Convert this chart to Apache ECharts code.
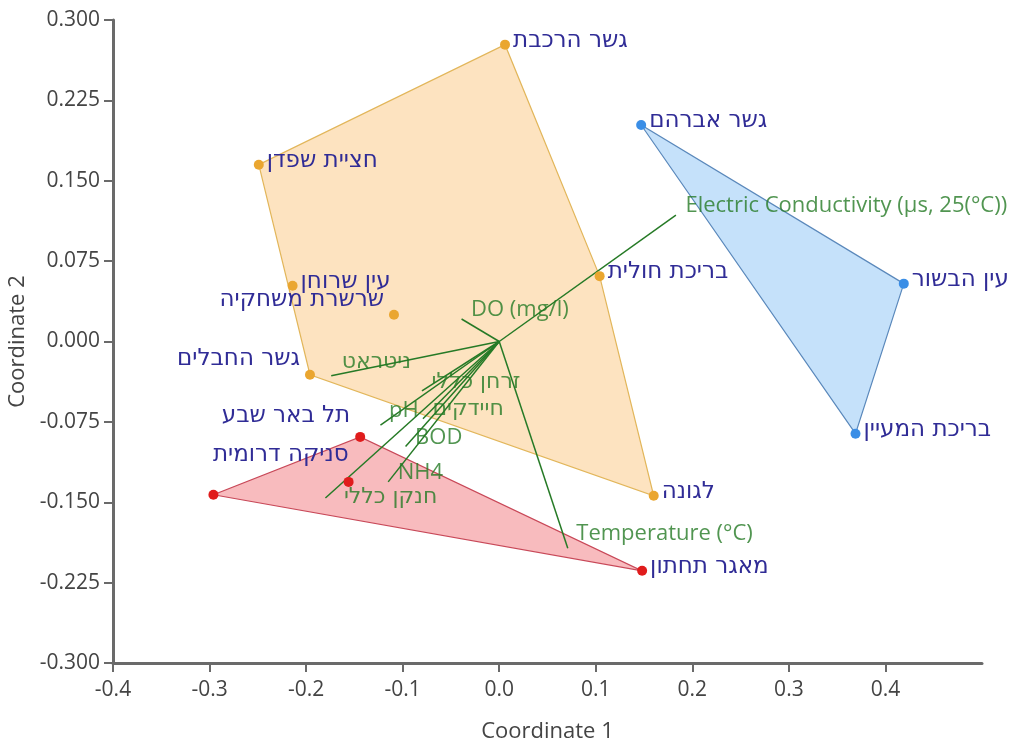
<!DOCTYPE html>
<html>
<head>
<meta charset="utf-8">
<script src="https://cdn.jsdelivr.net/npm/echarts@6/dist/echarts.min.js"></script>
<style>
  html, body { margin: 0; padding: 0; background: #fff; }
  #main { width: 1030px; height: 748px; }
</style>
</head>
<body>
<div id="main"></div>
<script>
    // נקודות הדגימה לפי קבוצה
    var orangeNames = ['גשר הרכבת', 'חציית שפדן', 'עין שרוחן', 'שרשרת משחקיה', 'גשר החבלים', 'בריכת חולית', 'לגונה'];
    var orangeX = [0.006, -0.249, -0.214, -0.109, -0.196, 0.104, 0.160];
    var orangeY = [0.277, 0.165, 0.052, 0.025, -0.031, 0.061, -0.144];

    var blueNames = ['גשר אברהם', 'עין הבשור', 'בריכת המעיין'];
    var blueX = [0.147, 0.419, 0.369];
    var blueY = [0.202, 0.054, -0.086];

    var redNames = ['תל באר שבע', 'סניקה דרומית', '', 'מאגר תחתון'];
    var redX = [-0.144, -0.156, -0.296, 0.148];
    var redY = [-0.089, -0.131, -0.143, -0.214];

    // וקטורי הפרמטרים
    var vecNames = ['Electric Conductivity (µs, 25(°C))', 'DO (mg/l)', 'Temperature (°C)', 'ניטראט',
        'זרחן כללי', 'חיידקים', 'pH', 'BOD', 'NH4', 'חנקן כללי'];
    var vecX = [0.183, -0.039, 0.071, -0.174, -0.080, -0.079, -0.123, -0.097, -0.115, -0.180];
    var vecY = [0.118, 0.021, -0.193, -0.032, -0.046, -0.072, -0.078, -0.098, -0.131, -0.146];

    var xTicks = [-0.4, -0.3, -0.2, -0.1, 0.0, 0.1, 0.2, 0.3, 0.4];

    var FONT = "'Open Sans', 'DejaVu Sans', sans-serif";
    var HEB_FONT = "'DejaVu Sans', 'Open Sans', sans-serif";
    var siteColor = '#302c96';
    var vecColor = '#267a26';
    var axisColor = '#6a6a6a';

    // תוויות שמוצגות משמאל לנקודה
    var leftLabels = {
        'שרשרת משחקיה': [0, -15],
        'גשר החבלים': [0, -16],
        'תל באר שבע': [0, -21],
        'סניקה דרומית': [10, -27]
    };
    var vecOffsets = {
        'Temperature (°C)': [3, -15],
        'חנקן כללי': [13, -1],
        'ניטראט': [5, -14],
        'pH': [3, -14]
    };

    function isHeb(s) { return /[\u0590-\u05FF]/.test(s); }

    function zip(xs, ys) {
        return xs.map(function (x, i) { return [x, ys[i]]; });
    }

    // מעטפת קמורה
    function hull(pts) {
        var p = pts.slice().sort(function (a, b) { return a[0] - b[0] || a[1] - b[1]; });
        function cross(o, a, b) { return (a[0] - o[0]) * (b[1] - o[1]) - (a[1] - o[1]) * (b[0] - o[0]); }
        var lower = [], upper = [];
        p.forEach(function (q) {
            while (lower.length >= 2 && cross(lower[lower.length - 2], lower[lower.length - 1], q) <= 0) lower.pop();
            lower.push(q);
        });
        p.slice().reverse().forEach(function (q) {
            while (upper.length >= 2 && cross(upper[upper.length - 2], upper[upper.length - 1], q) <= 0) upper.pop();
            upper.push(q);
        });
        return lower.slice(0, -1).concat(upper.slice(0, -1));
    }

    function hullSeries(pts, fill, stroke) {
        var h = hull(pts);
        return {
            type: 'custom',
            silent: true,
            z: 1,
            data: h,
            renderItem: function (params, api) {
                if (params.dataIndex !== 0) return null;
                return {
                    type: 'polygon',
                    shape: { points: h.map(function (q) { return api.coord(q); }) },
                    style: { fill: fill, stroke: stroke, lineWidth: 1.2 }
                };
            }
        };
    }

    function siteSeries(names, xs, ys, color) {
        return {
            type: 'scatter',
            z: 5,
            symbolSize: 10,
            itemStyle: { color: color, opacity: 1 },
            data: names.map(function (n, i) {
                var item = { name: n, value: [xs[i], ys[i]] };
                if (leftLabels[n]) {
                    item.label = { position: 'left', offset: leftLabels[n] };
                }
                return item;
            }),
            label: {
                show: true,
                position: 'right',
                offset: [-2, -4],
                formatter: '{b}',
                color: siteColor,
                fontSize: 23,
                fontFamily: HEB_FONT
            }
        };
    }

    var vecLines = vecNames.map(function (n, i) {
        return {
            type: 'line',
            z: 3,
            silent: true,
            symbol: 'none',
            lineStyle: { color: vecColor, width: 1.5 },
            data: [[0, 0], [vecX[i], vecY[i]]]
        };
    });

    var vecLabels = {
        type: 'scatter',
        z: 4,
        silent: true,
        symbolSize: 1,
        itemStyle: { color: 'transparent' },
        data: vecNames.map(function (n, i) {
            var item = { name: n, value: [vecX[i], vecY[i]], label: {} };
            if (vecOffsets[n]) item.label.offset = vecOffsets[n];
            if (isHeb(n)) item.label.fontFamily = HEB_FONT;
            return item;
        }),
        label: {
            show: true,
            position: 'right',
            offset: [4, -9],
            formatter: '{b}',
            color: vecColor,
            fontSize: 22,
            fontFamily: FONT
        }
    };

    var myChart = echarts.init(document.getElementById('main'));

    var option = {
        animation: false,
        backgroundColor: '#fff',
        grid: { left: 113, right: 48, top: 20, bottom: 85, outerBoundsMode: 'none', containLabel: false },
        xAxis: {
            type: 'value',
            min: -0.4,
            max: 0.5,
            interval: 0.1,
            name: 'Coordinate 1',
            nameLocation: 'middle',
            nameGap: 58,
            nameTextStyle: { color: '#444', fontSize: 22, fontFamily: FONT },
            splitLine: { show: false },
            axisLine: { onZero: false, lineStyle: { color: axisColor, width: 3 } },
            axisTick: { length: 9, lineStyle: { color: axisColor, width: 2 }, customValues: xTicks },
            axisLabel: {
                color: '#444', fontSize: 21, fontFamily: FONT, margin: 17,
                customValues: xTicks,
                formatter: function (v) { return v.toFixed(1); }
            }
        },
        yAxis: {
            type: 'value',
            min: -0.3,
            max: 0.3,
            interval: 0.075,
            name: 'Coordinate 2',
            nameLocation: 'middle',
            nameGap: 72,
            nameTextStyle: { color: '#444', fontSize: 22, fontFamily: FONT },
            splitLine: { show: false },
            axisLine: { onZero: false, lineStyle: { color: axisColor, width: 3 } },
            axisTick: { length: 9, lineStyle: { color: axisColor, width: 2 } },
            axisLabel: {
                color: '#444', fontSize: 21, fontFamily: FONT, margin: 13,
                formatter: function (v) { return v.toFixed(3); }
            }
        },
        series: [
            hullSeries(zip(orangeX, orangeY), 'rgba(252, 200, 130, 0.5)', '#e2b65a'),
            hullSeries(zip(blueX, blueY), 'rgba(140, 195, 245, 0.5)', '#5a88bb'),
            hullSeries(zip(redX, redY), 'rgba(242, 120, 125, 0.5)', '#c84858'),
            siteSeries(orangeNames, orangeX, orangeY, '#eaa630'),
            siteSeries(blueNames, blueX, blueY, '#3a8ee6'),
            siteSeries(redNames, redX, redY, '#e01c1c'),
            vecLabels
        ].concat(vecLines)
    };

    myChart.setOption(option);
    window.addEventListener('resize', function () {
        myChart.resize();
    });
</script>
</body>
</html>
